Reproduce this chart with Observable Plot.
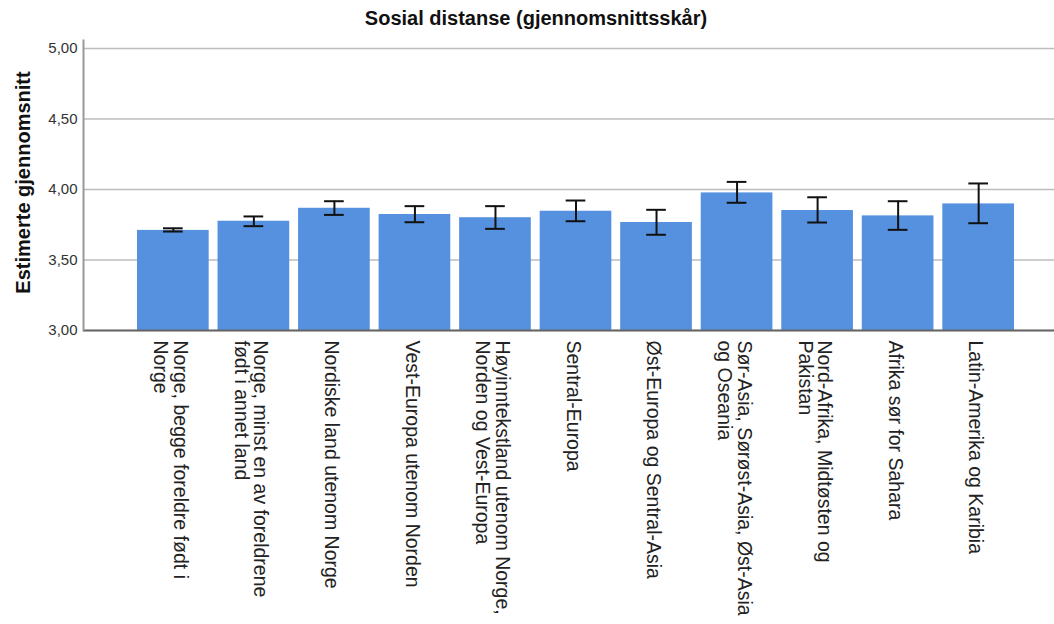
<!DOCTYPE html>
<html>
<head>
<meta charset="utf-8">
<script src="https://cdn.jsdelivr.net/npm/d3@7"></script>
<script src="https://cdn.jsdelivr.net/npm/@observablehq/plot@0.6"></script>
<style>
  body { margin: 0; background: #fff; font-family: "Liberation Sans", Arial, sans-serif; }
  #title {
    width: 1054px; height: 36px; line-height: 36px; box-sizing: border-box;
    padding-left: 18px; text-align: center;
    font-size: 20px; font-weight: bold; color: #111;
  }
  #chart svg { display: block; }
</style>
</head>
<body>
<div id="title">Sosial distanse (gjennomsnittsskår)</div>
<div id="chart"></div>
<script>
// Landbakgrunn (line breaks as printed under each bar)
const regions = [
  "Norge, begge foreldre født i\nNorge",
  "Norge, minst en av foreldrene\nfødt i annet land",
  "Nordiske land utenom Norge",
  "Vest-Europa utenom Norden",
  "Høyinntekstland utenom Norge,\nNorden og Vest-Europa",
  "Sentral-Europa",
  "Øst-Europa og Sentral-Asia",
  "Sør-Asia, Sørøst-Asia, Øst-Asia\nog Oseania",
  "Nord-Afrika, Midtøsten og\nPakistan",
  "Afrika sør for Sahara",
  "Latin-Amerika og Karibia"
];

// Estimated means with lower / upper confidence limits
const means = [3.71, 3.775, 3.867, 3.823, 3.80, 3.846, 3.766, 3.976, 3.851, 3.813, 3.898];
const lower = [3.702, 3.740, 3.820, 3.768, 3.721, 3.775, 3.679, 3.906, 3.766, 3.714, 3.761];
const upper = [3.725, 3.809, 3.917, 3.882, 3.882, 3.922, 3.856, 4.054, 3.945, 3.917, 4.043];

const yTicks = [3, 3.5, 4, 4.5, 5];
const yLabel = "Estimerte gjennomsnitt";

const rows = regions.map((region, i) => ({region, mean: means[i], lo: lower[i], hi: upper[i]}));
const fmt = d => d3.format(".2f")(d).replace(".", ",");

const chart = Plot.plot({
  width: 1054,
  height: 588,
  marginTop: 4,
  marginLeft: 83,
  marginRight: 0,
  marginBottom: 294,
  style: {fontFamily: "'Liberation Sans', Arial, sans-serif", background: "#fff"},
  x: {domain: regions, range: [137, 1014], paddingInner: 0.11, paddingOuter: 0, round: false, axis: null},
  y: {domain: [3, 5.057], axis: null},
  marks: [
    Plot.gridY(yTicks, {stroke: "#bdbdbd", strokeOpacity: 1, strokeWidth: 1.5}),
    Plot.barY(rows, {x: "region", y1: 3, y2: "mean", fill: "#5591df"}),
    Plot.ruleX(rows, {x: "region", y1: "lo", y2: "hi", stroke: "#111", strokeWidth: 2}),
    Plot.tickY(rows, {x: "region", y: "lo", insetLeft: 26, insetRight: 26, stroke: "#111", strokeWidth: 2}),
    Plot.tickY(rows, {x: "region", y: "hi", insetLeft: 26, insetRight: 26, stroke: "#111", strokeWidth: 2}),
    Plot.ruleY([3], {stroke: "#666", strokeWidth: 2}),
    Plot.frame({anchor: "left", stroke: "#999", strokeWidth: 2}),
    Plot.axisY(yTicks, {
      tickSize: 0, tickPadding: 6, tickFormat: fmt, fontSize: 15, color: "#333", label: null
    }),
    Plot.text([yLabel], {
      text: d => d, frameAnchor: "left", textAnchor: "middle", rotate: -90, dx: -60, dy: -3,
      fontSize: 20, fontWeight: "bold", fill: "#111"
    }),
    Plot.axisX({
      tickSize: 0, tickPadding: 10, tickRotate: 90, fontSize: 19.5,
      textAnchor: "start", lineAnchor: "middle", dx: -3, color: "#222", label: null
    })
  ]
});
document.getElementById("chart").append(chart);
</script>
</body>
</html>
